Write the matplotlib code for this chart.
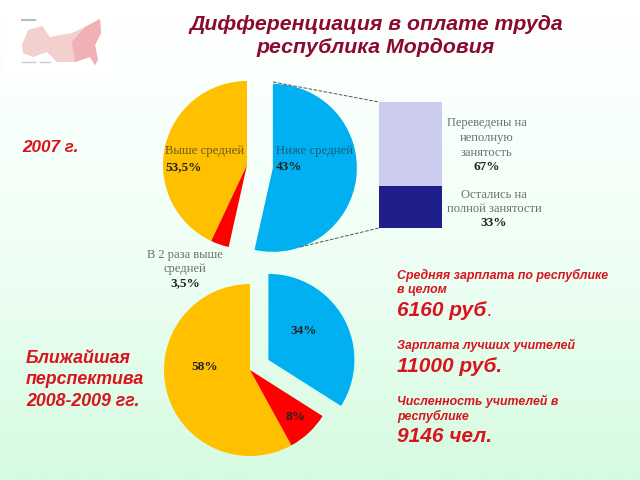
import numpy as np
import matplotlib
matplotlib.use('Agg')
import matplotlib.pyplot as plt
from matplotlib.colors import LinearSegmentedColormap

# shares as drawn in the picture (blue, red, yellow)
top_names = ['Ниже средней', 'В 2 раза выше средней', 'Выше средней']
top_shares = [53.5, 3.5, 43]
bottom_shares = [34, 8, 58]
bar_names = ['Остались на полной занятости', 'Переведены на неполную занятость']
bar_shares = [33, 67]

title = 'Дифференциация в оплате труда\nреспублика Мордовия'
sans = 'Liberation Sans'
serif = 'Liberation Serif'
red = '#d8141e'
yellow = '#ffc000'
pie_red = '#ff0000'
blue = '#00b0f0'

fig = plt.figure(figsize=(6.4, 4.8), dpi=100)
ax = fig.add_axes([0, 0, 1, 1])

# background fade, white at the top to pale green at the bottom
fade = LinearSegmentedColormap.from_list('fade', ['#ffffff', '#f0fff6', '#d6fbe0'])
ax.imshow(np.linspace(0, 1, 256).reshape(-1, 1), cmap=fade, aspect='auto', extent=(0, 640, 0, 480), zorder=0)

# pies, the wedge order is counterclockwise from the top, explode is in pixels here
ax.pie(top_shares[::-1], colors=[yellow, pie_red, blue], startangle=90, radius=84,
       center=(247, 480 - 165), explode=[0, 0, 26], wedgeprops={'linewidth': 0})
ax.pie(bottom_shares[::-1], colors=[yellow, pie_red, blue], startangle=90, radius=86,
       center=(250, 480 - 370), explode=[0, 0, 21], wedgeprops={'linewidth': 0})
ax.set_xlim(0, 640)
ax.set_ylim(0, 480)
ax.set_aspect('auto')
ax.axis('off')

# map in the corner
ax.fill_between([4, 114], 480 - 78, 480 - 8, color='white', lw=0, zorder=1)
map_x = [22, 28, 42, 50, 72, 85, 100, 101, 95, 98, 95, 90, 75, 57, 47, 33, 23]
map_y = [45, 30, 26, 37, 33, 27, 19, 33, 45, 60, 65, 57, 62, 62, 52, 57, 53]
ax.fill(map_x, [480 - y for y in map_y], color='#f3cfcd', lw=0, zorder=2)
east_x = [72, 85, 100, 101, 95, 98, 95, 90, 75]
east_y = [42, 27, 19, 33, 45, 60, 65, 57, 62]
ax.fill(east_x, [480 - y for y in east_y], color='#f0b0b4', lw=0, zorder=2)
ax.plot([22, 35], [480 - 20, 480 - 20], color='#bbbbbb', lw=1.5, zorder=2)
ax.plot([22, 35], [480 - 62, 480 - 62], color='#cccccc', lw=1, zorder=2)
ax.plot([40, 50], [480 - 62, 480 - 62], color='#cccccc', lw=1, zorder=2)

# dashed connectors to the bar
ax.plot([273, 379], [480 - 82, 480 - 102], color='#555555', lw=0.7, ls='--', zorder=3)
ax.plot([300, 379], [480 - 247, 480 - 228], color='#555555', lw=0.7, ls='--', zorder=3)

# stacked bar
bax = fig.add_axes([379 / 640, 1 - 228 / 480, 63 / 640, 126 / 480])
bax.bar([0], bar_shares[0], width=1, color='#1f1f8c')
bax.bar([0], bar_shares[1], width=1, bottom=bar_shares[0], color='#ccccee')
bax.set_xlim(-0.5, 0.5)
bax.set_ylim(0, 100)
bax.axis('off')


def put(x, y, s, **kw):
    ax.text(x, 480 - y, s, zorder=5, **kw)


put(376, 36, title, family=sans, weight='bold', style='italic', size=15.3, color='#8c0a2d',
    ha='center', va='center', linespacing=1.3)
put(22, 148, '2007 г.', family=sans, weight='bold', style='italic', size=12.3, color=red, va='center')
put(26, 380, 'Ближайшая\nперспектива\n2008-2009 гг.', family=sans, weight='bold', style='italic',
    size=12.8, color=red, va='center', linespacing=1.32)

# pie and bar labels
grey = '#6e6e6e'
dark = '#222222'
put(165, 151, top_names[2], family=serif, size=9.2, color='#6b5a20', va='center')
put(165, 167, '53,5%', family=serif, size=9.5, weight='bold', color=dark, va='center')
put(276, 151, top_names[0], family=serif, size=9.2, color='#14607c', va='center')
put(276, 167, '43%', family=serif, size=9.5, weight='bold', color=dark, va='center')
put(185, 262, 'В 2 раза выше\nсредней', family=serif, size=9, color=grey, ha='center', va='center',
    linespacing=1.25)
put(185, 283, '3,5%', family=serif, size=9.5, weight='bold', color=dark, ha='center', va='center')
put(487, 138, 'Переведены на\nнеполную\nзанятость', family=serif, size=9, color=grey, ha='center',
    va='center', linespacing=1.3)
put(487, 167, '67%', family=serif, size=9.5, weight='bold', color=dark, ha='center', va='center')
put(494, 202, 'Остались на\nполной занятости', family=serif, size=9, color=grey, ha='center',
    va='center', linespacing=1.3)
put(494, 223, '33%', family=serif, size=9.5, weight='bold', color=dark, ha='center', va='center')

put(304, 331, '34%', family=serif, size=9.5, weight='bold', color=dark, ha='center', va='center')
put(205, 367, '58%', family=serif, size=9.5, weight='bold', color=dark, ha='center', va='center')
put(296, 417, '8%', family=serif, size=9.5, weight='bold', color=dark, ha='center', va='center')

# figures on the right
small = dict(family=sans, weight='bold', style='italic', size=8.9, color=red, va='center')
big = dict(family=sans, weight='bold', style='italic', size=15, color=red, va='center')
put(397, 275, 'Средняя зарплата по республике', **small)
put(397, 290, 'в целом', **small)
put(397, 311, '6160 руб', **big)
put(488, 313, '.', **small)
put(397, 345, 'Зарплата лучших учителей', **small)
put(397, 367, '11000 руб.', **big)
put(397, 401, 'Численность учителей в', **small)
put(397, 416, 'республике', **small)
put(397, 437, '9146 чел.', **big)

fig.savefig('out.png', dpi=100)
